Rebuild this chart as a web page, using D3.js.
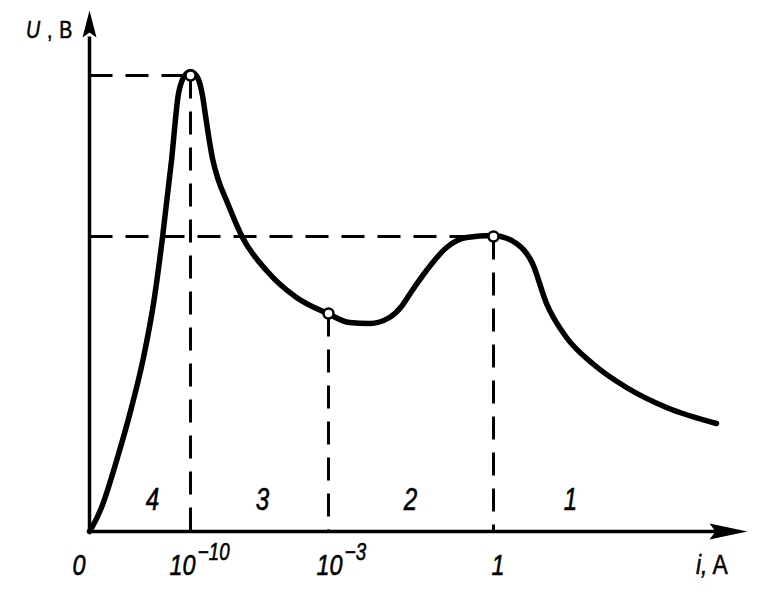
<!DOCTYPE html>
<html><head><meta charset="utf-8">
<script src="https://cdn.jsdelivr.net/npm/d3@7"></script>
<style>body{margin:0;background:#fff}svg{display:block}text{font-family:"Liberation Sans",Arial,sans-serif;fill:#000}</style>
</head><body>
<svg id="c" width="759" height="601"></svg>
<script>
// curve samples: schematic current position (axis units) and voltage U
const curveI = [0,3,12,28,42,54,64.5,73,82,89,93,97,101,105,109,113,116,119,123,129,137,153,177,207,238,260,280,300,312,322,337,357,377,403,427,443,457,477,503,537,577,627];
const curveU = [0,5,24,74,124,174,231,294,371,438,452,458,460,458,452,436,416,396,373,351,331,294,261,234,218,209,208,214,225,240,261,284,294,296,288,268,228,194,168,144,124,108];
// marked points (regime boundaries)
const markI = [101,239,404];
const markU = [456,218,295];
// tick positions and labels on the current axis
const tickPos = [0,101,239,404];
const tickBase = ["0","10","10","1"];
const tickExp = ["","\u221210","\u22123",""];
// region labels
const regionPos = [63,173,321,481];
const regionLabel = ["4","3","2","1"];

const svg = d3.select("#c");
const x = d3.scaleLinear().domain([0,658]).range([89.5,747.5]);
const y = d3.scaleLinear().domain([0,520]).range([531.5,11.5]);

// dashed guides
const dash = "23,13";
const g = svg.append("g").attr("stroke","#000").attr("stroke-width",3).attr("stroke-dasharray",dash).attr("fill","none");
markI.forEach((mi,k)=>{
  g.append("line").attr("x1",x(mi)).attr("x2",x(mi)).attr("y1",y(markU[k])).attr("y2",y(0));
});
[0,2].forEach(k=>{
  g.append("line").attr("x1",x(0)).attr("x2",x(markI[k])).attr("y1",y(markU[k])).attr("y2",y(markU[k]));
});

// axes
svg.append("line").attr("x1",x(0)).attr("x2",x(630)).attr("y1",y(0)).attr("y2",y(0)).attr("stroke","#000").attr("stroke-width",3.5);
svg.append("line").attr("x1",x(0)).attr("x2",x(0)).attr("y1",y(0)).attr("y2",y(495)).attr("stroke","#000").attr("stroke-width",3.5);
svg.append("path").attr("d",`M${x(658)},${y(0)} L${x(620)},${y(0)-8} L${x(626)},${y(0)} L${x(620)},${y(0)+8} Z`).attr("fill","#000");
svg.append("path").attr("d",`M${x(0)},${y(521)} L${x(0)-7},${y(494)} L${x(0)},${y(499)} L${x(0)+7},${y(494)} Z`).attr("fill","#000");

// curve
const line = d3.line().x((d,i)=>x(curveI[i])).y((d,i)=>y(curveU[i])).curve(d3.curveMonotoneX);
svg.append("path").attr("d",line(curveI)).attr("fill","none").attr("stroke","#000").attr("stroke-width",5.5).attr("stroke-linecap","round").attr("stroke-linejoin","round");

// markers
svg.selectAll("circle.m").data(markI).join("circle").attr("class","m")
  .attr("cx",d=>x(d)).attr("cy",(d,i)=>y(markU[i])).attr("r",5).attr("fill","#fff").attr("stroke","#000").attr("stroke-width",2.5);

// tick labels
const offs = [-17,-21,-12,-2];
tickPos.forEach((p,k)=>{
  const t = svg.append("text").attr("transform",`translate(${x(p)+offs[k]},575) scale(0.78,1)`)
    .attr("font-size",30).attr("font-style","italic").attr("stroke","#000").attr("stroke-width",0.6);
  t.append("tspan").text(tickBase[k]);
  if(tickExp[k]) t.append("tspan").attr("dy",-15).attr("dx",3).attr("font-size",24).text(tickExp[k]);
});

// region labels
regionPos.forEach((p,k)=>{
  svg.append("text").attr("transform",`translate(${x(p)},510) scale(0.78,1)`)
    .attr("text-anchor","middle").attr("font-size",31).attr("font-style","italic")
    .attr("stroke","#000").attr("stroke-width",0.6).text(regionLabel[k]);
});

// axis titles
const ty = svg.append("text").attr("transform","translate(26,38) scale(0.85,1)").attr("font-size",23).attr("stroke","#000").attr("stroke-width",0.5);
ty.append("tspan").attr("font-style","italic").text("U");
ty.append("tspan").attr("dx",8).text(",");
ty.append("tspan").attr("dx",8).text("В");
const tx = svg.append("text").attr("transform","translate(696,574) scale(0.85,1)").attr("font-size",27).attr("stroke","#000").attr("stroke-width",0.5);
tx.append("tspan").attr("font-style","italic").text("i");
tx.append("tspan").attr("font-style","italic").text(",");
tx.append("tspan").attr("dx",6).text("А");
</script>
</body></html>
